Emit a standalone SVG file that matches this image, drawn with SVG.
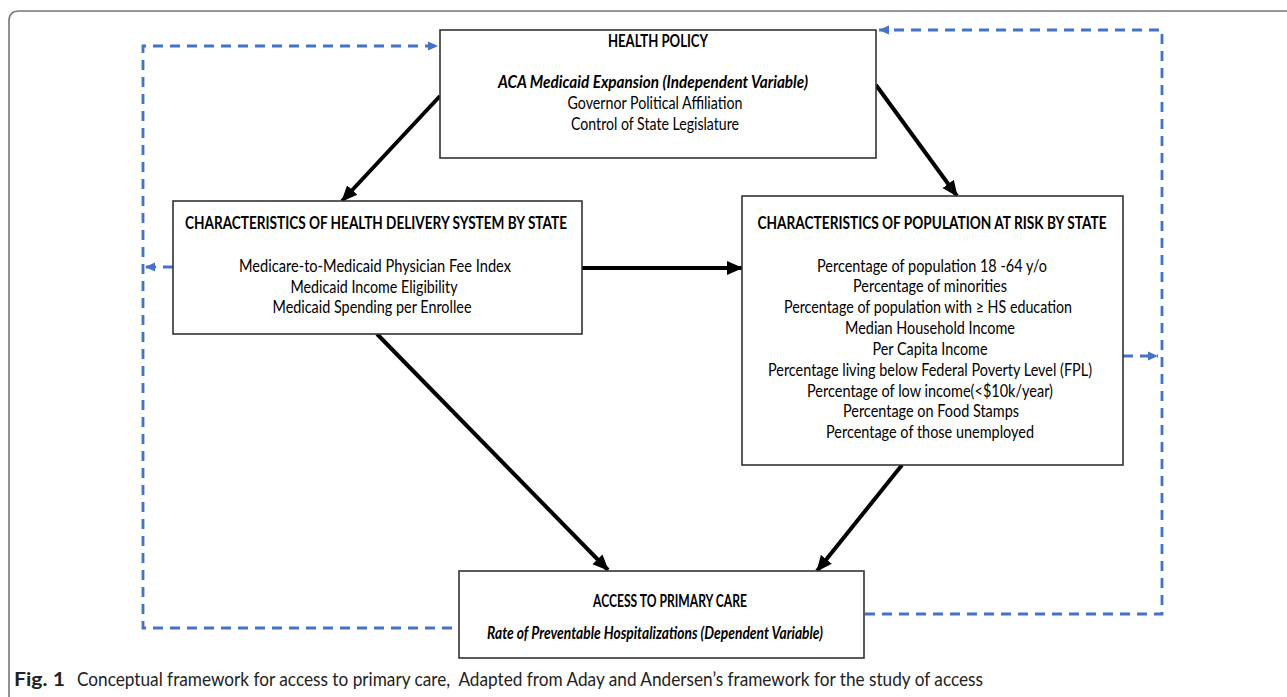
<svg xmlns="http://www.w3.org/2000/svg" width="1287" height="697" viewBox="0 0 1287 697">
<style>
.box{fill:#fff;stroke:#333;stroke-width:1.6}
.t{font-family:Lato,"Liberation Sans",sans-serif;font-size:16.5px;fill:#000;text-anchor:middle}
.b{font-weight:bold}
.i{font-style:italic}
.solid{stroke:#000;stroke-width:4;fill:none}
.dash{stroke:#4472C4;stroke-width:2.8;fill:none;stroke-dasharray:10,7}
.cap{font-family:Lato,"Liberation Sans",sans-serif;font-size:19px;fill:#222}
</style>
<defs>
<marker id="ab" markerUnits="userSpaceOnUse" markerWidth="18" markerHeight="16" refX="15" refY="8" orient="auto">
<path d="M0,1 L16,8 L0,15 Z" fill="#000"/>
</marker>
<marker id="ad" markerUnits="userSpaceOnUse" markerWidth="12" markerHeight="10" refX="10" refY="5" orient="auto">
<path d="M0,0.5 L10,5 L0,9.5 Z" fill="#4472C4"/>
</marker>
</defs>
<rect width="1287" height="697" fill="#fff"/>
<path d="M9,697 V21 Q9,11 19,11 H1287" fill="none" stroke="#777" stroke-width="1.6"/>

<g id="connectors">
<path class="dash" d="M452,628 H143 V46 H438" marker-end="url(#ad)"/>
<path class="dash" d="M173,267 H145" marker-end="url(#ad)"/>
<path class="dash" d="M865,614 H1162 V30 H879" marker-end="url(#ad)"/>
<path class="dash" d="M1123,356 H1158" marker-end="url(#ad)"/>
<path class="solid" d="M440,96 L342,201" marker-end="url(#ab)"/>
<path class="solid" d="M876,85 L957,196" marker-end="url(#ab)"/>
<path class="solid" d="M582,268 L742,268" marker-end="url(#ab)"/>
<path class="solid" d="M377,334 L608,570" marker-end="url(#ab)"/>
<path class="solid" d="M902,465 L817,571" marker-end="url(#ab)"/>
</g>

<g id="health-policy">
<rect class="box" x="440" y="30" width="436" height="128"/>
<text class="t b" x="658" y="47" textLength="100" lengthAdjust="spacingAndGlyphs">HEALTH POLICY</text>
<text class="t b i" x="653" y="88" textLength="310" lengthAdjust="spacingAndGlyphs">ACA Medicaid Expansion (Independent Variable)</text>
<text class="t" x="655" y="109" textLength="175" lengthAdjust="spacingAndGlyphs">Governor Political Affiliation</text>
<text class="t" x="655" y="130" textLength="168" lengthAdjust="spacingAndGlyphs">Control of State Legislature</text>
</g>

<g id="health-delivery">
<rect class="box" x="173" y="201" width="409" height="133"/>
<text class="t b" x="376" y="229" textLength="382" lengthAdjust="spacingAndGlyphs">CHARACTERISTICS OF HEALTH DELIVERY SYSTEM BY STATE</text>
<text class="t" x="375" y="272" textLength="272" lengthAdjust="spacingAndGlyphs">Medicare-to-Medicaid Physician Fee Index</text>
<text class="t" x="374" y="293" textLength="167" lengthAdjust="spacingAndGlyphs">Medicaid Income Eligibility</text>
<text class="t" x="372" y="313" textLength="199" lengthAdjust="spacingAndGlyphs">Medicaid Spending per Enrollee</text>
</g>

<g id="population-at-risk">
<rect class="box" x="742" y="196" width="381" height="269"/>
<text class="t b" x="932" y="229" textLength="349" lengthAdjust="spacingAndGlyphs">CHARACTERISTICS OF POPULATION AT RISK BY STATE</text>
<text class="t" x="932" y="272" textLength="230" lengthAdjust="spacingAndGlyphs">Percentage of population 18 -64 y/o</text>
<text class="t" x="930" y="292" textLength="154" lengthAdjust="spacingAndGlyphs">Percentage of minorities</text>
<text class="t" x="928" y="313" textLength="288" lengthAdjust="spacingAndGlyphs">Percentage of population with ≥ HS education</text>
<text class="t" x="930" y="334" textLength="170" lengthAdjust="spacingAndGlyphs">Median Household Income</text>
<text class="t" x="930" y="355" textLength="115" lengthAdjust="spacingAndGlyphs">Per Capita Income</text>
<text class="t" x="930" y="376" textLength="324" lengthAdjust="spacingAndGlyphs">Percentage living below Federal Poverty Level (FPL)</text>
<text class="t" x="930" y="397" textLength="246" lengthAdjust="spacingAndGlyphs">Percentage of low income(&lt;$10k/year)</text>
<text class="t" x="931" y="417" textLength="176" lengthAdjust="spacingAndGlyphs">Percentage on Food Stamps</text>
<text class="t" x="930" y="438" textLength="208" lengthAdjust="spacingAndGlyphs">Percentage of those unemployed</text>
</g>

<g id="access-primary-care">
<rect class="box" x="459" y="571" width="405" height="87"/>
<text class="t b" x="670" y="607" textLength="154" lengthAdjust="spacingAndGlyphs">ACCESS TO PRIMARY CARE</text>
<text class="t b i" x="655" y="639" textLength="336" lengthAdjust="spacingAndGlyphs">Rate of Preventable Hospitalizations (Dependent Variable)</text>
</g>

<g id="caption">
<text class="cap" x="14" y="686"><tspan font-weight="bold" textLength="51" lengthAdjust="spacingAndGlyphs">Fig. 1</tspan></text>
<text class="cap" x="77" y="686" textLength="906" lengthAdjust="spacingAndGlyphs" xml:space="preserve">Conceptual framework for access to primary care,  Adapted from Aday and Andersen’s framework for the study of access</text>
</g>
</svg>
